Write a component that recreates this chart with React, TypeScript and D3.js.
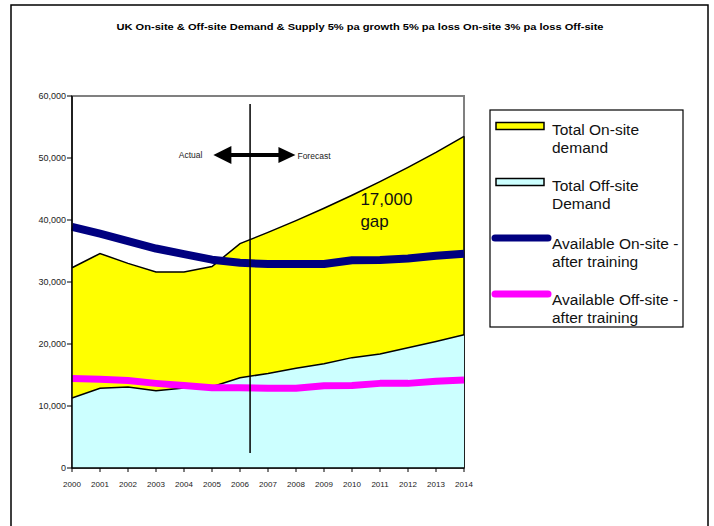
import React from "react";
import * as d3 from "d3";

const years = [2000, 2001, 2002, 2003, 2004, 2005, 2006, 2007, 2008, 2009, 2010, 2011, 2012, 2013, 2014];
const onsiteDemand = [32300, 34600, 33000, 31600, 31600, 32500, 36200, 38000, 39900, 41900, 44000, 46200, 48500, 50900, 53500];
const offsiteDemand = [11300, 12850, 13050, 12450, 12900, 13100, 14550, 15250, 16100, 16800, 17800, 18400, 19400, 20400, 21500];
const onsiteAvailable = [38900, 37800, 36600, 35400, 34500, 33600, 33100, 32900, 32900, 32900, 33500, 33550, 33800, 34250, 34550];
const offsiteAvailable = [14450, 14300, 14100, 13650, 13300, 12950, 12950, 12850, 12850, 13250, 13300, 13650, 13650, 14000, 14200];
const yTicks = [0, 10000, 20000, 30000, 40000, 50000, 60000];
const legendItems = [
  { lines: ["Total On-site", "demand"], kind: "area", color: "#FFFF00" },
  { lines: ["Total Off-site", "Demand"], kind: "area", color: "#CCFFFF" },
  { lines: ["Available On-site -", "after training"], kind: "line", color: "#000080" },
  { lines: ["Available Off-site -", "after training"], kind: "line", color: "#FF00FF" },
];
const title = "UK On-site & Off-site Demand & Supply 5% pa growth 5% pa loss On-site 3% pa loss Off-site";

const FONT = "Arial, 'Liberation Sans', Helvetica, sans-serif";

export default function App() {
  const x = d3.scaleLinear().domain([2000, 2014]).range([72, 464]);
  const y = d3.scaleLinear().domain([0, 60000]).range([468, 96]);
  const fmt = d3.format(",");

  const area = (vals: number[]) =>
    d3.area<number>().x((_, i) => x(years[i])).y0(y(0)).y1((d) => y(d))(vals) || "";
  const topLine = (vals: number[]) =>
    d3.line<number>().x((_, i) => x(years[i])).y((d) => y(d))(vals) || "";

  const yearDivide = 2006.36;
  const arrowY = 50500;
  const arrowL = 2005.05;
  const arrowR = 2007.98;

  return (
    <svg width={714} height={526} style={{ position: "absolute", left: 0, top: 0, background: "#fff" }} fontFamily={FONT}>
      <rect x={0} y={0} width={714} height={526} fill="#fff" />
      {/* outer frame */}
      <rect x={11} y={5} width={697} height={560} fill="none" stroke="#000" strokeWidth={1.5} />
      <text x={360} y={30} textAnchor="middle" fontSize={9} fontWeight="bold" textLength={487} lengthAdjust="spacingAndGlyphs">
        {title}
      </text>

      {/* plot area border */}
      <rect x={x(2000)} y={y(60000)} width={x(2014) - x(2000)} height={y(0) - y(60000)} fill="none" stroke="#808080" strokeWidth={2} />

      {/* areas */}
      <path d={area(onsiteDemand)} fill="#FFFF00" />
      <path d={topLine(onsiteDemand)} fill="none" stroke="#000" strokeWidth={1.5} />
      <line x1={x(2014)} x2={x(2014)} y1={y(onsiteDemand[14])} y2={y(0)} stroke="#000" strokeWidth={1.5} />
      <path d={area(offsiteDemand)} fill="#CCFFFF" />
      <path d={topLine(offsiteDemand)} fill="none" stroke="#000" strokeWidth={1.5} />

      {/* supply lines */}
      <path d={topLine(onsiteAvailable)} fill="none" stroke="#000080" strokeWidth={8} strokeLinejoin="round" />
      <path d={topLine(offsiteAvailable)} fill="none" stroke="#FF00FF" strokeWidth={7} strokeLinejoin="round" />

      {/* axes */}
      <line x1={x(2000)} x2={x(2000)} y1={y(60000)} y2={y(0)} stroke="#000" strokeWidth={1.5} />
      <line x1={x(2000)} x2={x(2014)} y1={y(0)} y2={y(0)} stroke="#000" strokeWidth={1.5} />
      {yTicks.map((t) => (
        <g key={t}>
          <line x1={x(2000) - 5} x2={x(2000)} y1={y(t)} y2={y(t)} stroke="#000" strokeWidth={1} />
          <text x={x(2000) - 6} y={y(t) + 3} textAnchor="end" fontSize={9} fill="#222">
            {fmt(t)}
          </text>
        </g>
      ))}
      {years.map((yr) => (
        <g key={yr}>
          <line x1={x(yr)} x2={x(yr)} y1={y(0)} y2={y(0) + 4} stroke="#000" strokeWidth={1} />
          <text x={x(yr)} y={y(0) + 19} textAnchor="middle" fontSize={8} fill="#222">
            {yr}
          </text>
        </g>
      ))}

      {/* divider and annotations */}
      <line x1={x(yearDivide)} x2={x(yearDivide)} y1={104} y2={453} stroke="#000" strokeWidth={1.5} />
      <line x1={x(arrowL) + 10} x2={x(arrowR) - 10} y1={y(arrowY)} y2={y(arrowY)} stroke="#000" strokeWidth={4} />
      <polygon
        points={`${x(arrowL)},${y(arrowY)} ${x(arrowL) + 18},${y(arrowY) - 9} ${x(arrowL) + 18},${y(arrowY) + 9}`}
        fill="#000"
      />
      <polygon
        points={`${x(arrowR)},${y(arrowY)} ${x(arrowR) - 17},${y(arrowY) - 8} ${x(arrowR) - 17},${y(arrowY) + 8}`}
        fill="#000"
      />
      <text x={x(arrowL) - 11} y={y(arrowY) + 3} textAnchor="end" fontSize={8.5} fill="#222">Actual</text>
      <text x={x(arrowR) + 2} y={y(arrowY) + 4} fontSize={8.5} fill="#222">Forecast</text>
      <text x={x(2010.3)} y={y(42400)} fontSize={17} fill="#111">17,000</text>
      <text x={x(2010.3)} y={y(38800)} fontSize={17} fill="#111">gap</text>

      {/* legend */}
      <rect x={490} y={110} width={193} height={217} fill="#fff" stroke="#000" strokeWidth={1.2} />
      {legendItems.map((it, i) => {
        const cy = 126 + i * 56;
        return (
          <g key={i}>
            {it.kind === "area" ? (
              <rect x={496} y={cy - 3.5} width={48} height={7} fill={it.color} stroke="#000" strokeWidth={1.5} />
            ) : (
              <line x1={495} x2={548} y1={cy} y2={cy} stroke={it.color} strokeWidth={7} strokeLinecap="round" />
            )}
            {it.lines.map((l, j) => (
              <text key={j} x={552} y={cy + (it.kind === "area" ? 9 : 11) + j * 17.5} fontSize={15.5} fill="#111">
                {l}
              </text>
            ))}
          </g>
        );
      })}
    </svg>
  );
}
